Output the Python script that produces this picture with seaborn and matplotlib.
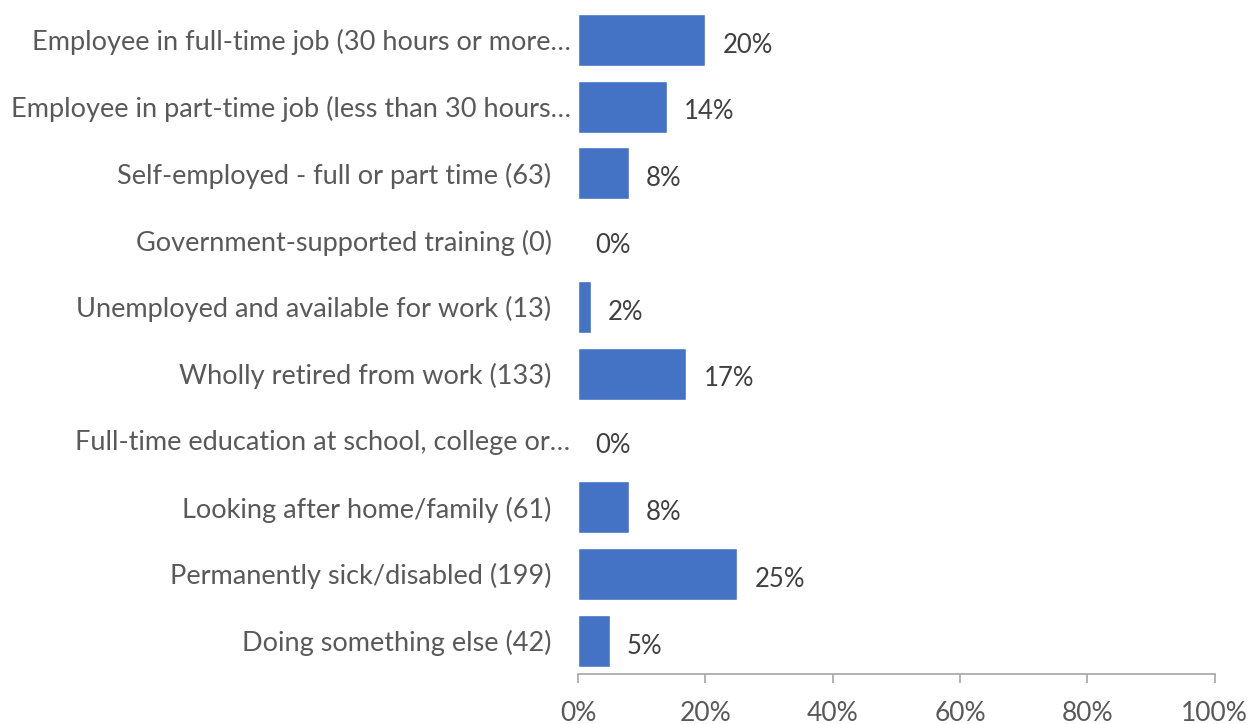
import matplotlib
matplotlib.use("Agg")
import matplotlib.pyplot as plt
import matplotlib.transforms as mtransforms
from matplotlib.ticker import PercentFormatter
import seaborn as sns
import pandas as pd

categories = [
    "Employee in full-time job (30 hours or more…",
    "Employee in part-time job (less than 30 hours…",
    "Self-employed - full or part time (63)",
    "Government-supported training (0)",
    "Unemployed and available for work (13)",
    "Wholly retired from work (133)",
    "Full-time education at school, college or…",
    "Looking after home/family (61)",
    "Permanently sick/disabled (199)",
    "Doing something else (42)",
]
percentages = [20, 14, 8, 0, 2, 17, 0, 8, 25, 5]
x_ticks = [0, 20, 40, 60, 80, 100]

df = pd.DataFrame({"category": categories, "pct": percentages})

sns.set_theme(style="white")
plt.rcParams["font.family"] = ["Lato", "DejaVu Sans"]

fig = plt.figure(figsize=(12.51, 7.24), dpi=100)
ax = fig.add_axes([0.462, 0.069, 0.509, 0.922])

sns.barplot(data=df, x="pct", y="category", color="#4472C4", saturation=1,
            width=0.78, orient="h", ax=ax)

for i, v in enumerate(percentages):
    ax.text(v + 2.7, i + 0.08, f"{v}%", va="center", ha="left",
            fontsize=18.5, color="#404040")

ax.set_xlim(0, 100)
ax.set_ylim(len(categories) - 0.5, -0.5)
ax.set_xticks(x_ticks)
ax.xaxis.set_major_formatter(PercentFormatter(decimals=0))
ax.set_xlabel("")
ax.set_ylabel("")

for side in ["top", "right", "left"]:
    ax.spines[side].set_visible(False)
ax.spines["bottom"].set_color("#A6A6A6")
ax.spines["bottom"].set_linewidth(1.2)

ax.tick_params(axis="x", which="major", bottom=True, length=6.5, width=1.2,
               color="#A6A6A6", labelsize=19, labelcolor="#595959", pad=13)
ax.tick_params(axis="y", left=False, labelsize=19.5, labelcolor="#595959", pad=13)

# truncated category names sit a little closer to the axis
shift = mtransforms.ScaledTranslation(19 / 100, 0, fig.dpi_scale_trans)
for lbl in ax.get_yticklabels():
    if lbl.get_text().endswith("…"):
        lbl.set_transform(lbl.get_transform() + shift)

fig.savefig("out.png", dpi=100)
